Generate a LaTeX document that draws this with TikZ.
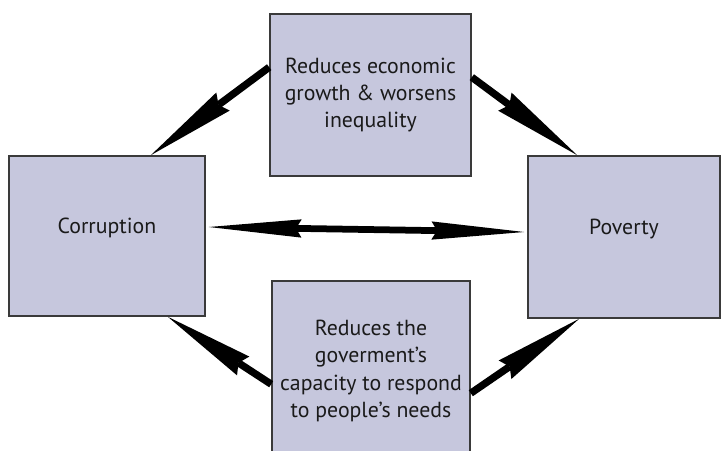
\documentclass[tikz,border=0pt]{standalone}
\usepackage{fontspec}
\setmainfont{PT Sans}
\usepackage{tikz}
\usepackage{xcolor}
\usetikzlibrary{arrows.meta, positioning, calc}
\definecolor{boxfill}{HTML}{C6C7DD}
\definecolor{boxline}{HTML}{3A3A3A}
\definecolor{textcol}{HTML}{1A1A1A}
\tikzset{
  factor/.style={
    draw=boxline, fill=boxfill, line width=1.1pt,
    font=\fontsize{15.5}{19.5}\selectfont, text=textcol,
    align=center, inner sep=2pt
  },
  flowarrow/.style={-{Stealth[length=64pt, width=16pt, inset=4pt, line width=0pt]}, line width=5.2pt},
  twowayarrow/.style={{Stealth[length=66pt, width=13pt, inset=4pt, line width=0pt]}-{Stealth[length=66pt, width=13pt, inset=4pt, line width=0pt]}, line width=4.8pt}
}

\begin{document}
\begin{tikzpicture}[x=0.025cm, y=-0.025cm]
    \clip (0,0) rectangle (722,450);
    % Boxes
    \node[factor, minimum width=4.9cm, minimum height=4.0cm, text depth=15pt] (corr) at (107,236) {Corruption};
    \node[factor, minimum width=4.8cm, minimum height=4.05cm, text depth=15pt] (pov) at (624,237) {Poverty};
    \node[factor, minimum width=5.025cm, minimum height=4.05cm] (growth) at (370.5,95)
        {Reduces economic\\growth \& worsens\\inequality};
    \node[factor, minimum width=4.95cm, minimum height=4.5cm] (capacity) at (371,371)
        {Reduces the\\goverment’s\\capacity to respond\\to people’s needs};

    % Upper loop
    \draw[flowarrow] ([shift={(0,54)}]growth.north west) -- ([shift={(-55,0)}]corr.north east);
    \draw[flowarrow] ([shift={(0,64)}]growth.north east) -- ([shift={(50,0)}]pov.north west);

    % Lower loop
    \draw[flowarrow] ([shift={(0,104)}]capacity.north west) -- ([shift={(-38,0)}]corr.south east);
    \draw[flowarrow] ([shift={(0,113)}]capacity.north east) -- ([shift={(52,0)}]pov.south west);

    % Direct link
    \draw[twowayarrow] ([shift={(3,-9)}]corr.east) -- ([shift={(-3,-5)}]pov.west);
\end{tikzpicture}
\end{document}
